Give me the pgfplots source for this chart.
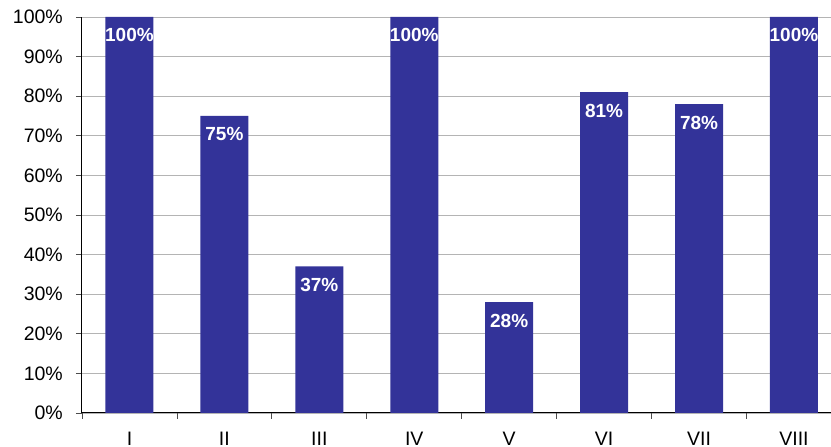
\documentclass[border=0pt]{standalone}
\usepackage{pgfplots}
\pgfplotsset{compat=1.18}
\usepackage{fontspec}
\setmainfont{Liberation Sans}
\definecolor{barblue}{HTML}{333399}
\definecolor{gridgray}{HTML}{B4B4B4}

\begin{document}
\begin{tikzpicture}
  \begin{axis}[
    scale only axis,
    width=749pt, height=396pt,
    xmin=-0.5, xmax=7.39,
    ymin=0, ymax=100,
    axis lines*=left,
    axis line style={black, line width=1pt},
    ybar, bar width=48pt,
    ytick={0,10,...,100},
    yticklabel={\pgfmathprintnumber[assume math mode=true]{\tick}\%},
    ymajorgrids,
    grid style={gridgray, line width=0.9pt},
    tick align=outside,
    major tick length=6pt,
    tick style={black!70, line width=0.8pt},
    yticklabel style={inner sep=0pt, xshift=-13pt},
    ticklabel style={font=\fontsize{19.5}{22}\selectfont},
    xtick={-0.5,0.5,...,6.5},
    xticklabels={},
    extra x ticks={0,1,2,3,4,5,6,7},
    extra x tick labels={I,II,III,IV,V,VI,VII,VIII},
    extra x tick style={grid=none, major tick length=0pt,
      tick style={draw=none},
      xticklabel style={anchor=north, inner sep=0pt, yshift=-19pt}},
    point meta=y,
    nodes near coords={\pgfmathprintnumber[assume math mode=true]{\pgfplotspointmeta}\%},
    nodes near coords style={anchor=north, inner sep=0pt, yshift=-11.5pt,
      text=white, font=\fontsize{19}{21}\selectfont\bfseries},
    clip=false,
  ]
    \addplot[fill=barblue, draw=none] coordinates {
      (0,100) (1,75) (2,37) (3,100) (4,28) (5,81) (6,78) (7,100)
    };
  \end{axis}
  \pgfresetboundingbox
  \path (-82pt,-34pt) rectangle (749pt,413pt);
\end{tikzpicture}
\end{document}
